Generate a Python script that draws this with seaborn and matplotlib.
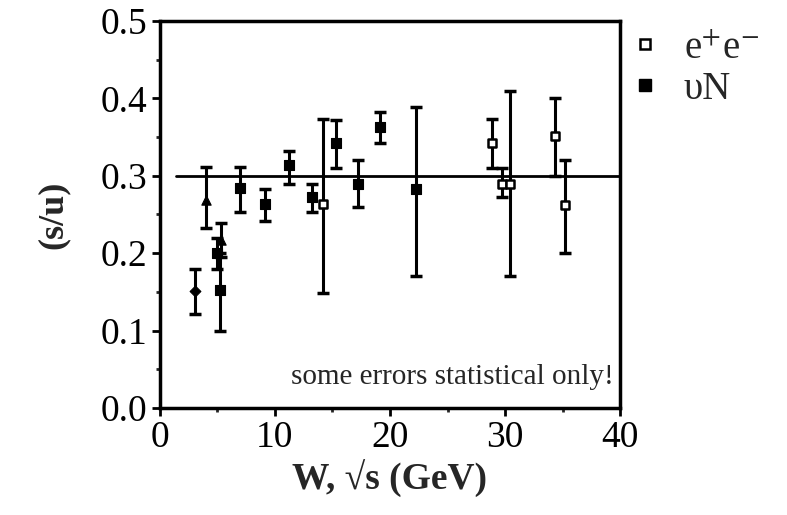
import numpy as np
import pandas as pd
import matplotlib
matplotlib.use("Agg")
import matplotlib.pyplot as plt
import seaborn as sns
from matplotlib.lines import Line2D
from matplotlib.ticker import MultipleLocator

# ---- data ----
# filled markers: nu N data
nuN_w   = [3.1, 4.0, 5.3, 5.0, 5.2, 7.0, 9.1, 11.2, 13.2, 15.3, 17.2, 19.1, 22.3]
nuN_su  = [0.151, 0.269, 0.217, 0.200, 0.152, 0.284, 0.263, 0.314, 0.273, 0.342, 0.289, 0.363, 0.283]
nuN_lo  = [0.121, 0.232, 0.195, 0.180, 0.100, 0.253, 0.242, 0.290, 0.253, 0.310, 0.260, 0.342, 0.171]
nuN_hi  = [0.180, 0.311, 0.239, 0.220, 0.200, 0.311, 0.283, 0.332, 0.290, 0.372, 0.320, 0.382, 0.389]
nuN_mk  = ["D", "^", "^", "s", "s", "s", "s", "s", "s", "s", "s", "s", "s"]

# open markers: e+e- data
ee_w    = [14.2, 28.9, 29.7, 30.4, 34.3, 35.2]
ee_su   = [0.263, 0.342, 0.289, 0.289, 0.351, 0.262]
ee_lo   = [0.149, 0.310, 0.273, 0.171, 0.300, 0.200]
ee_hi   = [0.373, 0.373, 0.310, 0.410, 0.400, 0.320]

ref_level = 0.30
ref_range = [1.4, 40.0]

x_ticks = [0, 10, 20, 30, 40]
y_ticks = [0.0, 0.1, 0.2, 0.3, 0.4, 0.5]

sns.set_style("ticks")
plt.rcParams["font.family"] = ["Liberation Serif", "DejaVu Serif"]
plt.rcParams["mathtext.fontset"] = "stix"

fig = plt.figure(figsize=(7.87, 5.15), dpi=100)
ax = fig.add_axes([0.203, 0.208, 0.585, 0.751])

nu_df = pd.DataFrame({"W": nuN_w, "su": nuN_su, "lo": nuN_lo, "hi": nuN_hi, "mk": nuN_mk})
ee_df = pd.DataFrame({"W": ee_w, "su": ee_su, "lo": ee_lo, "hi": ee_hi})

# reference line
ax.plot(ref_range, [ref_level, ref_level], color="black", lw=2.0, zorder=1)

# error bars
for df in (nu_df, ee_df):
    yerr = np.vstack([df["su"] - df["lo"], df["hi"] - df["su"]])
    ax.errorbar(df["W"], df["su"], yerr=yerr, fmt="none", ecolor="black",
                elinewidth=2.2, capsize=4, capthick=2.5, zorder=2)

# markers
sizes = {"s": 45, "^": 45, "D": 30}
for mk in ["s", "^", "D"]:
    sub = nu_df[nu_df["mk"] == mk]
    if len(sub):
        sns.scatterplot(data=sub, x="W", y="su", marker=mk, color="black",
                        edgecolor="black", s=sizes[mk], linewidth=0.8,
                        ax=ax, zorder=3, legend=False)
sns.scatterplot(data=ee_df, x="W", y="su", marker="s", facecolor="white",
                edgecolor="black", s=40, linewidth=1.8, ax=ax, zorder=3, legend=False)

ax.set_xlim(0, 40)
ax.set_ylim(0, 0.5)
ax.set_xticks(x_ticks)
ax.set_yticks(y_ticks)
ax.set_xticklabels([str(t) for t in x_ticks])
ax.set_yticklabels([f"{t:.1f}" for t in y_ticks])
ax.xaxis.set_minor_locator(MultipleLocator(5))
ax.yaxis.set_minor_locator(MultipleLocator(0.05))
ax.tick_params(axis="both", which="major", direction="out", length=6, width=2,
               labelsize=27, pad=3, colors="black")
ax.tick_params(axis="both", which="minor", direction="out", length=3, width=2)
for sp in ax.spines.values():
    sp.set_visible(True)
    sp.set_linewidth(2.5)
    sp.set_color("black")

ax.set_xlabel("W, \u221As (GeV)", fontsize=27, fontweight="bold", labelpad=4)
ax.set_ylabel("(s/u)", fontsize=26, fontweight="bold", labelpad=22)
ax.text(0.985, 0.045, "some errors statistical only!", transform=ax.transAxes,
        ha="right", va="bottom", fontsize=21)

handles = [
    Line2D([], [], marker="s", linestyle="none", markerfacecolor="white",
           markeredgecolor="black", markeredgewidth=1.8, markersize=7),
    Line2D([], [], marker="s", linestyle="none", markerfacecolor="black",
           markeredgecolor="black", markersize=9),
]
leg = fig.legend(handles, ["e$^{+}$e$^{-}$", "\u03c5N"], loc="upper left",
                 bbox_to_anchor=(0.76, 1.01), frameon=False, fontsize=28,
                 handlelength=0.6, handletextpad=0.7, labelspacing=0.1)

fig.savefig("out.png", dpi=100, facecolor="white")
